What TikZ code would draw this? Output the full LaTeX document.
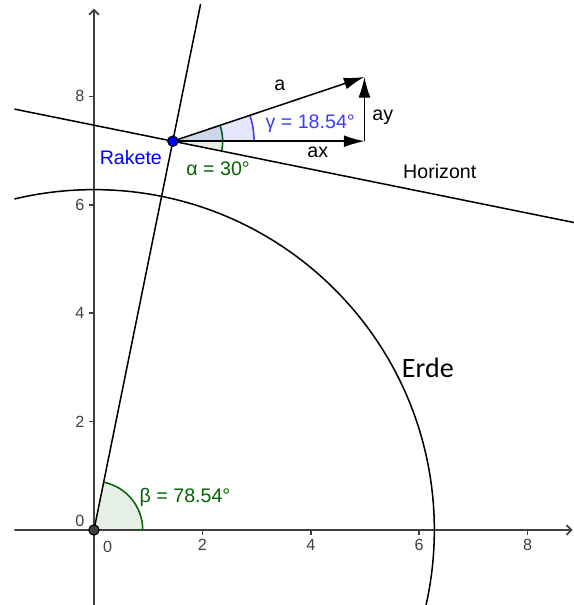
\documentclass[tikz,border=0pt]{standalone}
\usepackage{fontspec}
\setmainfont{Liberation Sans}
\newfontfamily\erdefont{Carlito}
\usetikzlibrary{arrows.meta,calc}
\definecolor{grau}{RGB}{64,64,64}
\definecolor{gruen}{RGB}{0,100,0}
\definecolor{blau}{RGB}{0,0,255}
\definecolor{hellblau}{RGB}{60,60,255}

\begin{document}
\begin{tikzpicture}[xscale=1,yscale=1]
	% Styles (ANPASSBAR)
	\tikzstyle{achse}=[grau,line width=0.9pt]
	\tikzstyle{pfeilachse}=[achse,-{Straight Barb[length=0.9mm,width=1.8mm]}]
	\tikzstyle{linie}=[black,line width=0.8pt]
	\tikzstyle{vektor}=[black,line width=0.8pt,-{Latex[length=3.8mm,width=2.2mm]}]
	\tikzstyle{punkt}=[circle,draw=black,line width=0.6pt,inner sep=0pt,minimum size=1.9mm]
	\tikzstyle{skala}=[grau,font=\fontsize{8.5}{10}\selectfont,inner sep=0pt]
	\tikzstyle{etikett}=[font=\fontsize{10.3}{12}\selectfont,inner sep=0pt]
	\tikzstyle{flaechegruen}=[fill=gruen,fill opacity=0.1]
	\tikzstyle{flaecheblau}=[fill=blau,fill opacity=0.1]
	\tikzstyle{winkelgruen}=[gruen,line width=0.8pt]
	\tikzstyle{winkelblau}=[hellblau,line width=0.8pt]
	% Abmessungen (ANPASSBAR)
	\def\Erdradius{6.28}
	\def\Abstand{7.32}
	\def\WinkelBeta{78.54}
	\def\WinkelGamma{18.54}
	\def\LaengeA{3.73}
	\def\RadiusAlpha{0.92}
	\def\RadiusGamma{1.5}
	\def\RadiusBeta{0.9}
	% Berechnete Werte (NICHT ANPASSEN)
	\def\Horizont{(\WinkelBeta-90)}
	% Rahmen
	\useasboundingbox (-1.734,-1.384) rectangle (8.856,9.779);
	\clip (-1.47,-1.384) rectangle (8.856,9.69);
	% Punkte
	\coordinate (O) at (0,0);
	\coordinate (R) at (\WinkelBeta:\Abstand);
	\coordinate (A) at ($(R)+(\WinkelGamma:\LaengeA)$);
	\coordinate (Ax) at (A |- R);
	\coordinate (HL) at ($(R)+({\Horizont+180}:3.1)$);
	\coordinate (HR) at ($(R)+({\Horizont}:7.6)$);
	\coordinate (S) at (\WinkelBeta:9.95);
	\coordinate (XL) at (-1.47,0);
	\coordinate (XR) at (8.83,0);
	\coordinate (YU) at (0,-1.384);
	\coordinate (YO) at (0,9.62);
	% Achsen
	\draw[pfeilachse] (XL)--(XR);
	\draw[pfeilachse] (YU)--(YO);
	\foreach \x in {2,4,6,8}
		\draw[achse] (\x,0)--(\x,-0.09) node[skala,below=2pt] (tx\x) {\x};
	\foreach \y in {2,4,6,8}
		\draw[achse] (0,\y)--(-0.09,\y) node[skala,left=2pt] (ty\y) {\y};
	\node[skala] (tx0) at (0.25,-0.31) {0};
	\node[skala] (ty0) at (-0.26,0.17) {0};
	% Erde
	\draw[linie] (O) circle (\Erdradius);
	% Winkel
	\fill[flaechegruen] (O)--(\RadiusBeta,0) arc (0:\WinkelBeta:\RadiusBeta)--cycle;
	\draw[winkelgruen] (\RadiusBeta,0) arc (0:\WinkelBeta:\RadiusBeta);
	\fill[flaechegruen] (R)--++({\Horizont}:\RadiusAlpha) arc ({\Horizont}:\WinkelGamma:\RadiusAlpha)--cycle;
	\draw[winkelgruen] ($(R)+({\Horizont}:\RadiusAlpha)$) arc ({\Horizont}:\WinkelGamma:\RadiusAlpha);
	\fill[flaecheblau] (R)--++(\RadiusGamma,0) arc (0:\WinkelGamma:\RadiusGamma)--cycle;
	\draw[winkelblau] ($(R)+(\RadiusGamma,0)$) arc (0:\WinkelGamma:\RadiusGamma);
	% Linien
	\draw[linie] (O)--(S);
	\draw[linie] (HL)--(HR);
	% Vektoren
	\draw[vektor] (R)--(A);
	\draw[vektor] (R)--(Ax);
	\draw[vektor] (Ax)--(A);
	% Knoten
	\node[punkt,fill=grau] (Op) at (O) {};
	\node[punkt,fill=blau] (Rp) at (R) {};
	% Beschriftungen
	\node[etikett,blau] (Rak) at (0.68,6.88) {Rakete};
	\node[etikett] (La) at (3.43,8.21) {a};
	\node[etikett] (Lax) at (4.13,6.96) {ax};
	\node[etikett] (Lay) at (5.33,7.62) {ay};
	\node[etikett,hellblau] (Lg) at (3.99,7.49) {γ = 18.54°};
	\node[etikett,gruen] (Lal) at (2.29,6.66) {α = 30°};
	\node[etikett,gruen] (Lb) at (1.68,0.61) {β = 78.54°};
	\node[etikett] (Hor) at (6.38,6.61) {Horizont};
	\node[inner sep=0pt,font=\erdefont\fontsize{14.7}{17}\selectfont] (Erde) at (6.16,3.0) {Erde};
\end{tikzpicture}
\end{document}
